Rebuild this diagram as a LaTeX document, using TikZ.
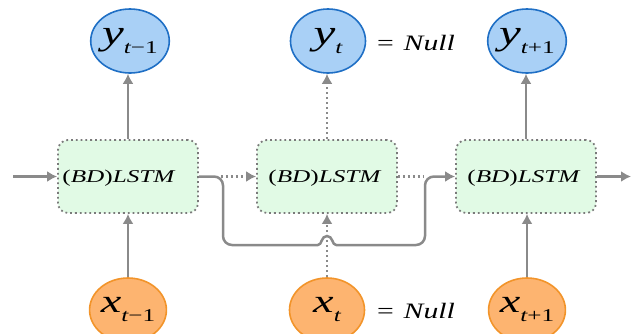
\documentclass[tikz,border=0pt]{standalone}
\usepackage{fontspec}
\setmainfont{Liberation Serif}
\usepackage{graphicx}
\usetikzlibrary{shapes.geometric,arrows.meta}
\definecolor{arrowgray}{HTML}{8A8A8A}
\definecolor{boxgray}{HTML}{7A7A7A}
\definecolor{boxgreen}{HTML}{E1FAE5}
\definecolor{yfill}{HTML}{A9D0F6}
\definecolor{yline}{HTML}{1F6FC5}
\definecolor{xfill}{HTML}{FDB470}
\definecolor{xline}{HTML}{F2942A}
\newcommand{\stretchx}[1]{\scalebox{1.4}[1]{#1}}
\newcommand{\varlbl}[4]{\stretchx{\fontsize{#4}{#4}\selectfont\itshape #1}\raisebox{-9pt}{\stretchx{\fontsize{18}{18}\selectfont\itshape #2\upshape #3}}}
\newcommand{\lstmlbl}{\stretchx{\fontsize{18}{18}\selectfont (\textit{BD})\textit{LSTM}}}
\newcommand{\nulllbl}{\scalebox{1.35}[1]{\fontsize{22}{22}\selectfont =\,\,\textit{Null}}}
\tikzset{
  yvar/.style={ellipse, draw=yline, fill=yfill, line width=1.6pt, minimum width=75pt, minimum height=64pt, inner sep=0pt},
  xvar/.style={ellipse, draw=xline, fill=xfill, line width=1.6pt, minimum width=75pt, minimum height=64pt, inner sep=0pt},
  cell/.style={draw=boxgray, fill=boxgreen, line width=1.8pt, dash pattern=on 1.8pt off 3pt, rounded corners=10pt, minimum width=140pt, minimum height=73pt, inner sep=0pt},
  wire/.style={draw=arrowgray, line width=2.5pt},
  conn/.style={wire, -{Latex[length=10pt,width=11pt]}},
  dotwire/.style={draw=arrowgray, line width=2.4pt, dash pattern=on 2.4pt off 2.6pt},
  dconn/.style={dotwire, -{Latex[length=10pt,width=11pt]}},
  plain/.style={inner sep=0pt}
}
\begin{document}
\begin{tikzpicture}[x=1pt,y=-1pt]
\useasboundingbox (0,0) rectangle (632,333);
% cells
\node[cell] (b1) at (128,176.5) {};
\node[cell] (b2) at (327,176.5) {};
\node[cell] (b3) at (526,176.5) {};
\node[plain] (l1) at (119,178) {\lstmlbl};
\node[plain] (l2) at (325,178) {\lstmlbl};
\node[plain] (l3) at (524,178) {\lstmlbl};
% outputs
\node[yvar] (y1) at (130,41) {\varlbl{y}{t}{−1}{35}};
\node[yvar] (y2) at (328,41) {\varlbl{y}{t}{}{35}};
\node[yvar] (y3) at (527,41) {\varlbl{y}{t}{+1}{35}};
\node[plain] (n1) at (416,43) {\nulllbl};
% inputs
\node[xvar] (x1) at (128,310) {\varlbl{x}{t}{−1}{33}};
\node[xvar] (x2) at (327,310) {\varlbl{x}{t}{}{33}};
\node[xvar] (x3) at (527,310) {\varlbl{x}{t}{+1}{33}};
\node[plain] (n2) at (416,311) {\nulllbl};
% free ends and bends
\coordinate (in) at (13,176.5);
\coordinate (out) at (631,176.5);
\coordinate (hopa) at (318,245);
\coordinate (hopb) at (336,245);
% vertical connectors
\draw[conn] (b1.north) -- (b1.north |- y1.south);
\draw[dconn] (b2.north) -- (b2.north |- y2.south);
\draw[conn] (b3.north) -- (b3.north |- y3.south);
\draw[conn] (x1.north) -- (x1.north |- b1.south);
\draw[dconn] (x2.north) -- (x2.north |- b2.south);
\draw[conn] (x3.north) -- (x3.north |- b3.south);
% horizontal connectors
\draw[conn] (in) -- (b1.west);
\draw[conn] (b3.east) -- (out);
\draw[dconn] ([xshift=22pt]b1.east) -- (b2.west);
\draw[dotwire] (b2.east) -- (424,176.5);
\draw[wire, rounded corners=9pt] (b1.east) -- (223,176.5) -- (223,245) -- (hopa);
\draw[wire, line cap=round] (hopa) .. controls (322,245) and (321,236) .. (327,236)
  .. controls (333,236) and (332,245) .. (hopb);
\draw[conn, rounded corners=9pt] (hopb) -- (425,245) -- (425,176.5) -- (b3.west);
\end{tikzpicture}
\end{document}
